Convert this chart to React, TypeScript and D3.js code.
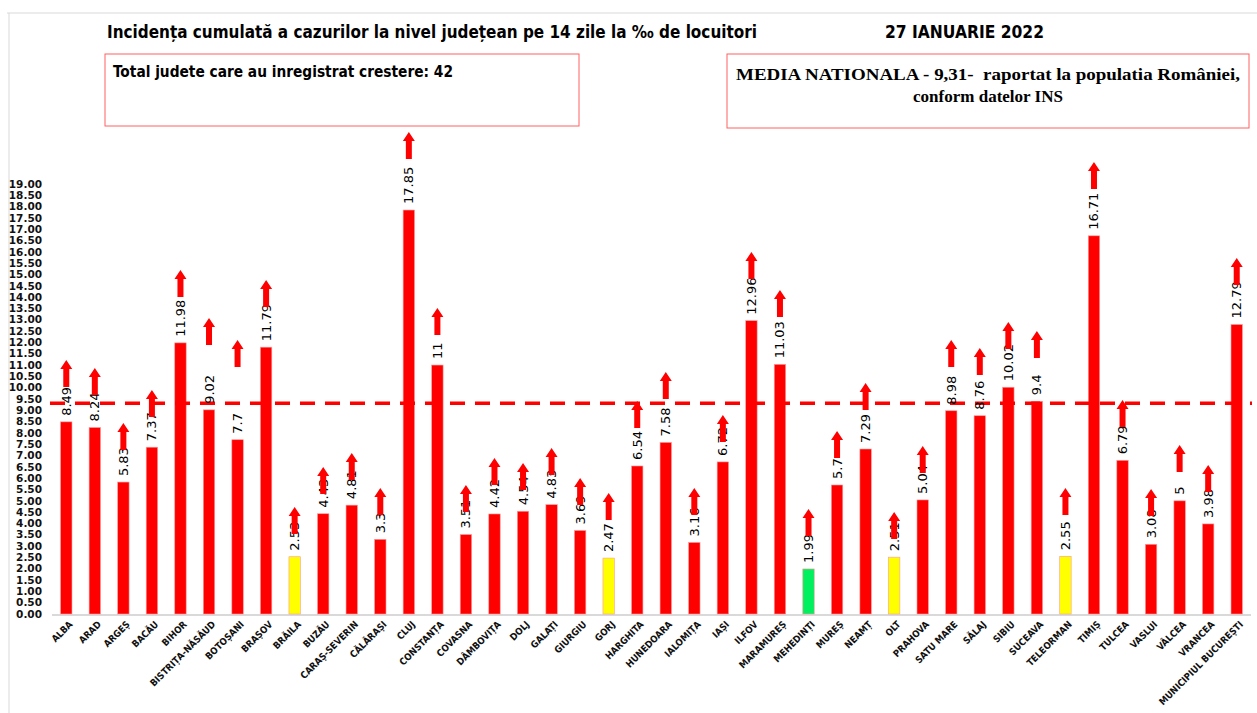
import * as d3 from "d3";
import React from "react";

const counties = [
  "ALBA", "ARAD", "ARGEȘ", "BACĂU", "BIHOR", "BISTRIȚA-NĂSĂUD", "BOTOȘANI", "BRAȘOV",
  "BRĂILA", "BUZĂU", "CARAȘ-SEVERIN", "CĂLĂRAȘI", "CLUJ", "CONSTANȚA", "COVASNA",
  "DÂMBOVIȚA", "DOLJ", "GALAȚI", "GIURGIU", "GORJ", "HARGHITA", "HUNEDOARA", "IALOMIȚA",
  "IAȘI", "ILFOV", "MARAMUREȘ", "MEHEDINȚI", "MUREȘ", "NEAMȚ", "OLT", "PRAHOVA",
  "SATU MARE", "SĂLAJ", "SIBIU", "SUCEAVA", "TELEORMAN", "TIMIȘ", "TULCEA", "VASLUI",
  "VÂLCEA", "VRANCEA", "MUNICIPIUL BUCUREȘTI",
];

const values = [
  8.49, 8.24, 5.83, 7.37, 11.98, 9.02, 7.7, 11.79,
  2.53, 4.43, 4.81, 3.3, 17.85, 11, 3.51,
  4.42, 4.54, 4.83, 3.69, 2.47, 6.54, 7.58, 3.16,
  6.72, 12.96, 11.03, 1.99, 5.7, 7.29, 2.51, 5.04,
  8.98, 8.76, 10.02, 9.4, 2.55, 16.71, 6.79, 3.08,
  5, 3.98, 12.79,
];

// tip of the "growing" arrow drawn over each county, in chart units
const arrowTips = [
  11.22, 10.87, 8.44, 9.9, 15.2, 13.08, 12.11, 14.76,
  4.73, 6.5, 7.11, 5.57, 21.3, 13.52, 5.7,
  6.89, 6.67, 7.34, 6.01, 5.35, 9.41, 10.69, 5.57,
  8.79, 16.0, 14.32, 4.64, 8.09, 10.21, 4.51, 7.42,
  12.11, 11.75, 12.9, 12.51, 5.57, 19.97, 9.46, 5.52,
  7.47, 6.58, 15.73,
];

// county level class: 0 red, 1 yellow, 2 green
const levels = [
  0, 0, 0, 0, 0, 0, 0, 0,
  1, 0, 0, 0, 0, 0, 0,
  0, 0, 0, 0, 1, 0, 0, 0,
  0, 0, 0, 2, 0, 0, 1, 0,
  0, 0, 0, 0, 1, 0, 0, 0,
  0, 0, 0,
];

const nationalMean = 9.31;
const yTicks = d3.range(0, 19.01, 0.5);

const title = "Incidența cumulată a cazurilor la nivel județean pe 14 zile la ‰ de locuitori";
const dateText = "27 IANUARIE 2022";
const totalText = "Total judete care au inregistrat crestere: 42";
const mediaLine1 = "MEDIA NATIONALA - 9,31-\u00a0 raportat la populatia României,";
const mediaLine2 = "conform datelor INS";

const W = 1257;
const H = 713;

export default function App() {
  const x = d3.scaleBand<string>()
    .domain(counties)
    .range([52, 1251])
    .paddingInner(0.6)
    .paddingOuter(0.3);

  const y = d3.scaleLinear().domain([0, 19]).range([614, 184]);

  const color = d3.scaleOrdinal<number, string>()
    .domain([0, 1, 2])
    .range(["#ff0000", "#ffff00", "#00f060"]);

  const bw = x.bandwidth();
  const cx = (c: string) => (x(c) as number) + bw / 2;

  const arrow = (tipY: number) => {
    const hw = 6, sw = 3, hh = 9, len = 27;
    return `M0,${tipY} L${hw},${tipY + hh} L${sw},${tipY + hh} L${sw},${tipY + len}` +
      ` L${-sw},${tipY + len} L${-sw},${tipY + hh} L${-hw},${tipY + hh} Z`;
  };

  const condensed = "'Liberation Sans Narrow', 'DejaVu Sans Condensed', 'Open Sans', sans-serif";

  return (
    <svg width={W} height={H} style={{ position: "absolute", left: 0, top: 0, background: "#fff" }}>
      {/* outer frame */}
      <line x1={7} x2={W} y1={13} y2={13} stroke="#d9d9d9" strokeWidth={1} />
      <line x1={9} x2={9} y1={13} y2={H} stroke="#d9d9d9" strokeWidth={1} />

      {/* headings */}
      <text x={107} y={38} fontFamily={condensed} fontWeight="bold" fontSize={17}
        textLength={650} lengthAdjust="spacingAndGlyphs" fill="#000">{title}</text>
      <text x={885} y={38} fontFamily={condensed} fontWeight="bold" fontSize={17}
        textLength={159} lengthAdjust="spacingAndGlyphs" fill="#000">{dateText}</text>

      <rect x={105} y={54} width={474} height={72} fill="none" stroke="#ff6060" strokeWidth={1} />
      <text x={113} y={77} fontFamily={condensed} fontWeight="bold" fontSize={15}
        textLength={340} lengthAdjust="spacingAndGlyphs" fill="#000">{totalText}</text>

      <rect x={727} y={54} width={522} height={74} fill="none" stroke="#ff6060" strokeWidth={1} />
      <text x={988} y={80} textAnchor="middle" fontFamily="'Liberation Serif', serif" fontWeight="bold"
        fontSize={17} textLength={504} lengthAdjust="spacingAndGlyphs" fill="#000">{mediaLine1}</text>
      <text x={988} y={102} textAnchor="middle" fontFamily="'Liberation Serif', serif" fontWeight="bold"
        fontSize={17} fill="#000">{mediaLine2}</text>

      {/* y axis labels */}
      {yTicks.map(t => (
        <text key={t} x={42} y={y(t)} dy="0.35em" textAnchor="end" fontFamily="'DejaVu Sans', sans-serif"
          fontSize={10.5} fontWeight={600} fill="#111">{t.toFixed(2)}</text>
      ))}

      {/* baseline */}
      <line x1={52} x2={1251} y1={y(0) + 1} y2={y(0) + 1} stroke="#d9d9d9" strokeWidth={2} />

      {/* bars */}
      {counties.map((c, i) => (
        <rect key={c} x={x(c)} y={y(values[i])} width={bw} height={y(0) - y(values[i])}
          fill={color(levels[i])} stroke="#ff9a9a" strokeWidth={0.6} />
      ))}

      {/* national mean */}
      <line x1={50} x2={1252} y1={y(nationalMean)} y2={y(nationalMean)}
        stroke="#ff0000" strokeWidth={3.5} strokeDasharray="15 10" />

      {/* value labels */}
      {counties.map((c, i) => (
        <text key={c} transform={`translate(${cx(c) + 4.5},${y(values[i]) - 6}) rotate(-90)`}
          fontFamily="'DejaVu Sans', sans-serif" fontSize={13} fill="#000">{String(values[i])}</text>
      ))}

      {/* trend arrows */}
      {counties.map((c, i) => (
        <path key={c} transform={`translate(${cx(c)},0)`} d={arrow(y(arrowTips[i]))} fill="#ff0000" />
      ))}

      {/* x labels */}
      {counties.map(c => (
        <text key={c} transform={`translate(${cx(c) + 7},625) rotate(-45)`} textAnchor="end"
          fontFamily={condensed} fontWeight="bold" fontSize={9.5} fill="#111">{c}</text>
      ))}
    </svg>
  );
}
